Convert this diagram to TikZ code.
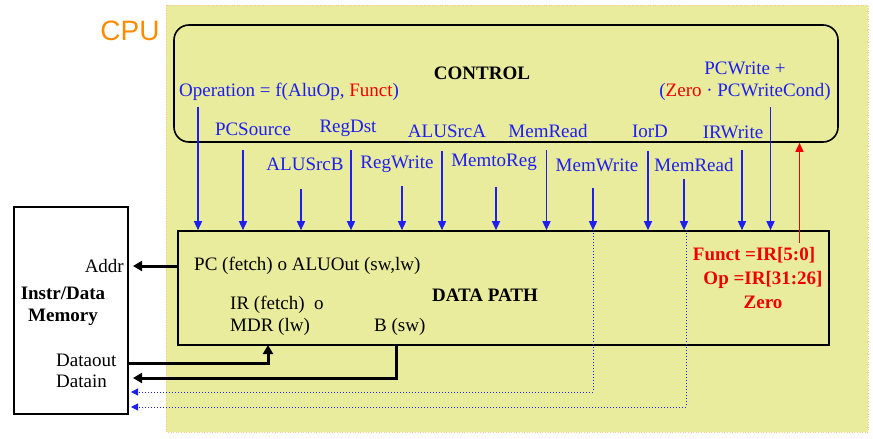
\documentclass[tikz,border=0pt]{standalone}
\usepackage{fontspec}
\setmainfont{Liberation Serif}
\newfontfamily\cpufont{Liberation Sans}
\usetikzlibrary{arrows.meta}
\definecolor{cpuyellow}{RGB}{232,236,156}
\definecolor{cpuorange}{RGB}{255,140,0}
\definecolor{sigblue}{RGB}{30,30,240}
\definecolor{sigred}{RGB}{240,0,0}
\tikzstyle{lbl}=[text=sigblue,inner sep=0pt]
\tikzstyle{res}=[text=sigred,inner sep=0pt,font=\fontsize{19}{22}\selectfont\bfseries]
\tikzstyle{sig}=[draw=sigblue,line width=1.4pt,-{Triangle[length=9pt,width=8pt]}]
\tikzstyle{bus}=[line width=3pt,-{Triangle[length=9pt,width=10pt]}]
\tikzstyle{ret}=[draw=sigblue,dotted,line width=1pt,-{Triangle[length=7pt,width=7pt]}]

\begin{document}
\begin{tikzpicture}[x=1pt,y=-1pt,font=\fontsize{19}{22}\selectfont]
\useasboundingbox (0,0) rectangle (873,439);
\fill[cpuyellow] (166,5) rectangle (868,432);
\draw[cpuorange!50,dotted,line width=0.6pt] (166,5) rectangle (868,432);
\node[text=cpuorange,font=\cpufont\fontsize{28}{30}\selectfont] (CPU) at (130,31) {CPU};
\node[draw,rounded corners=15pt,line width=1.6pt,minimum width=664,minimum height=117] (Ctrl) at (506,83.5) {};
\node[draw,line width=1.6pt,minimum width=651,minimum height=114] (DP) at (503.5,288) {};
\node[draw,fill=white,line width=2.2pt,minimum width=114,minimum height=207] (Mem) at (71,310.5) {};
\node[inner sep=0pt] (CtrlName) at (482,73) {\bfseries CONTROL};
\node[lbl,anchor=west] (Operation) at (179,92) {Operation = f(AluOp, \textcolor{sigred}{Funct})};
\node[lbl,align=center] (PCWrite) at (745,81) {PCWrite +\\(\textcolor{sigred}{Zero} \textperiodcentered{} PCWriteCond)};
\node[lbl] (PCSource) at (253,129) {PCSource};
\node[lbl] (RegDst) at (348,128) {RegDst};
\node[lbl] (ALUSrcA) at (447,131) {ALUSrcA};
\node[lbl] (MemReadA) at (548,131) {MemRead};
\node[lbl] (IorD) at (650,131) {IorD};
\node[lbl] (IRWrite) at (733,132) {IRWrite};
\node[lbl] (ALUSrcB) at (305,164) {ALUSrcB};
\node[lbl] (RegWrite) at (397,164) {RegWrite};
\node[lbl] (MemtoReg) at (494,162) {MemtoReg};
\node[lbl] (MemWrite) at (597,165) {MemWrite};
\node[lbl] (MemReadB) at (694,165) {MemRead};
\node[inner sep=0pt] (DPName) at (485,295) {\bfseries DATA PATH};
\node[inner sep=0pt,anchor=west] (PC) at (194,266) {PC (fetch) o ALUOut (sw,lw)};
\node[inner sep=0pt,anchor=west,align=left] (IRMDR) at (230,316) {IR (fetch)\ \ o\\MDR (lw)};
\node[inner sep=0pt,anchor=west] (B) at (374,327) {B (sw)};
\node[res] (Funct) at (754,255) {Funct =IR[5:0]};
\node[res] (Op) at (763,280) {Op =IR[31:26]};
\node[res] (ZeroOut) at (763,302) {Zero};
\node[inner sep=0pt,anchor=east] (Addr) at (124,266) {Addr};
\node[inner sep=0pt,align=center] (MemName) at (63,306) {\bfseries Instr/Data\\\bfseries Memory};
\node[inner sep=0pt,anchor=west] (Dout) at (56,360) {Dataout};
\node[inner sep=0pt,anchor=west] (Din) at (56,381) {Datain};
\coordinate (op) at (198,107);
\coordinate (pcsrc) at (243,150);
\coordinate (srcb) at (301,189);
\coordinate (regdst) at (351,150);
\coordinate (regwr) at (402,186);
\coordinate (srca) at (442,151);
\coordinate (memtoreg) at (496,187);
\coordinate (memrda) at (546.5,150);
\coordinate (memwr) at (593,188);
\coordinate (iord) at (648,151);
\coordinate (memrdb) at (684,179);
\coordinate (irwr) at (742,150);
\coordinate (pcwr) at (770.5,107);
\coordinate (zf) at (799.5,243);
\coordinate (addrin) at (133,266);
\coordinate (dout) at (128,363);
\coordinate (irin) at (268,345);
\coordinate (bsw) at (396,345);
\coordinate (din) at (133,378);
\coordinate (mwret) at (131,392);
\coordinate (mrret) at (131,407);
\draw[sig] (op) -- (op |- DP.north);
\draw[sig] (pcsrc) -- (pcsrc |- DP.north);
\draw[sig] (srcb) -- (srcb |- DP.north);
\draw[sig] (regdst) -- (regdst |- DP.north);
\draw[sig] (regwr) -- (regwr |- DP.north);
\draw[sig] (srca) -- (srca |- DP.north);
\draw[sig] (memtoreg) -- (memtoreg |- DP.north);
\draw[sig] (memrda) -- (memrda |- DP.north);
\draw[sig] (memwr) -- (memwr |- DP.north);
\draw[sig] (iord) -- (iord |- DP.north);
\draw[sig] (memrdb) -- (memrdb |- DP.north);
\draw[sig] (irwr) -- (irwr |- DP.north);
\draw[sig] (pcwr) -- (pcwr |- DP.north);
\draw[sig,draw=sigred] (zf) -- (zf |- Ctrl.south);
\draw[bus] (DP.west |- addrin) -- (addrin);
\draw[bus] (dout) -| (irin);
\draw[bus] (bsw) |- (din);
\draw[ret] (memwr |- DP.north) |- (mwret);
\draw[ret] ([xshift=2]memrdb |- DP.north) |- (mrret);
\end{tikzpicture}
\end{document}
